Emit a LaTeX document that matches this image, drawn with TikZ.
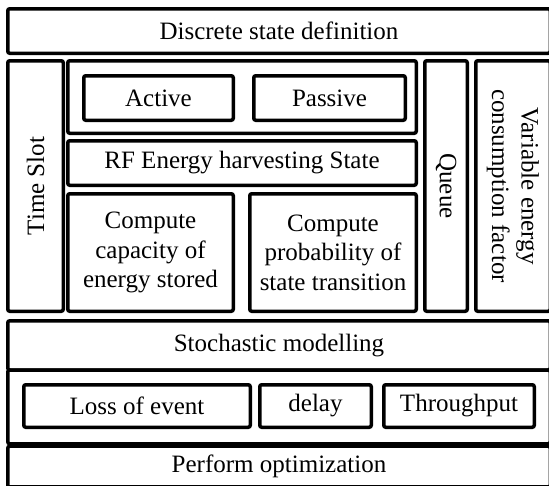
\documentclass[tikz,border=0pt]{standalone}
\usepackage{fontspec}
\setmainfont{Liberation Serif}
\newcommand\fsz{\fontsize{25}{29.5}\selectfont}
\begin{document}
\begin{tikzpicture}[x=1pt,y=-1pt,
  box/.style={draw, line width=3.5pt, rounded corners=2pt, inner sep=0pt, align=center, font=\fsz, fill=white}]
\useasboundingbox (0,0) rectangle (549,485);
\clip (0,0) rectangle (549,485);
% top
\node[box, minimum width=542.5, minimum height=44.5] (top) at (279,31) {Discrete state definition};
% middle row
\node[box, rotate=90, minimum width=250.5, minimum height=55.5] (slot) at (35.5,186) {Time Slot};
\node[box, minimum width=348.5, minimum height=72.5] (grp) at (242,97) {};
\node[box, minimum width=149.5, minimum height=44.5] (active) at (158.5,98) {Active};
\node[box, minimum width=151.5, minimum height=44.5] (passive) at (329.5,98) {Passive};
\node[box, minimum width=348.5, minimum height=44.5] (rf) at (242,163) {RF Energy harvesting State};
\node[box, minimum width=165.5, minimum height=117.5] (cap) at (150.5,252.5) {Compute\\capacity of\\energy stored};
\node[box, minimum width=166.5, minimum height=117.5] (prob) at (333,252.5) {Compute\\probability of\\state transition};
\node[box, rotate=-90, minimum width=250.5, minimum height=42.5] (queue) at (446,186) {Queue};
\node[box, rotate=-90, minimum width=250.5, minimum height=74.5] (var) at (513,186) {Variable energy\\consumption factor};
% bottom
\node[box, minimum width=542.5, minimum height=49.25] (stoch) at (279,345.4) {Stochastic modelling};
\node[box, minimum width=542.5, minimum height=73.75] (metrics) at (279,406.9) {};
\node[box, minimum width=226.5, minimum height=42.5] (loss) at (137,406) {Loss of event};
\node[box, minimum width=111.5, minimum height=42.5] (delay) at (315.5,406) {delay};
\node[box, minimum width=150.5, minimum height=42.5] (thr) at (459,406) {Throughput};
\node[box, minimum width=542.5, minimum height=40.75] (opt) at (279,466.6) {Perform optimization};
\end{tikzpicture}
\end{document}
